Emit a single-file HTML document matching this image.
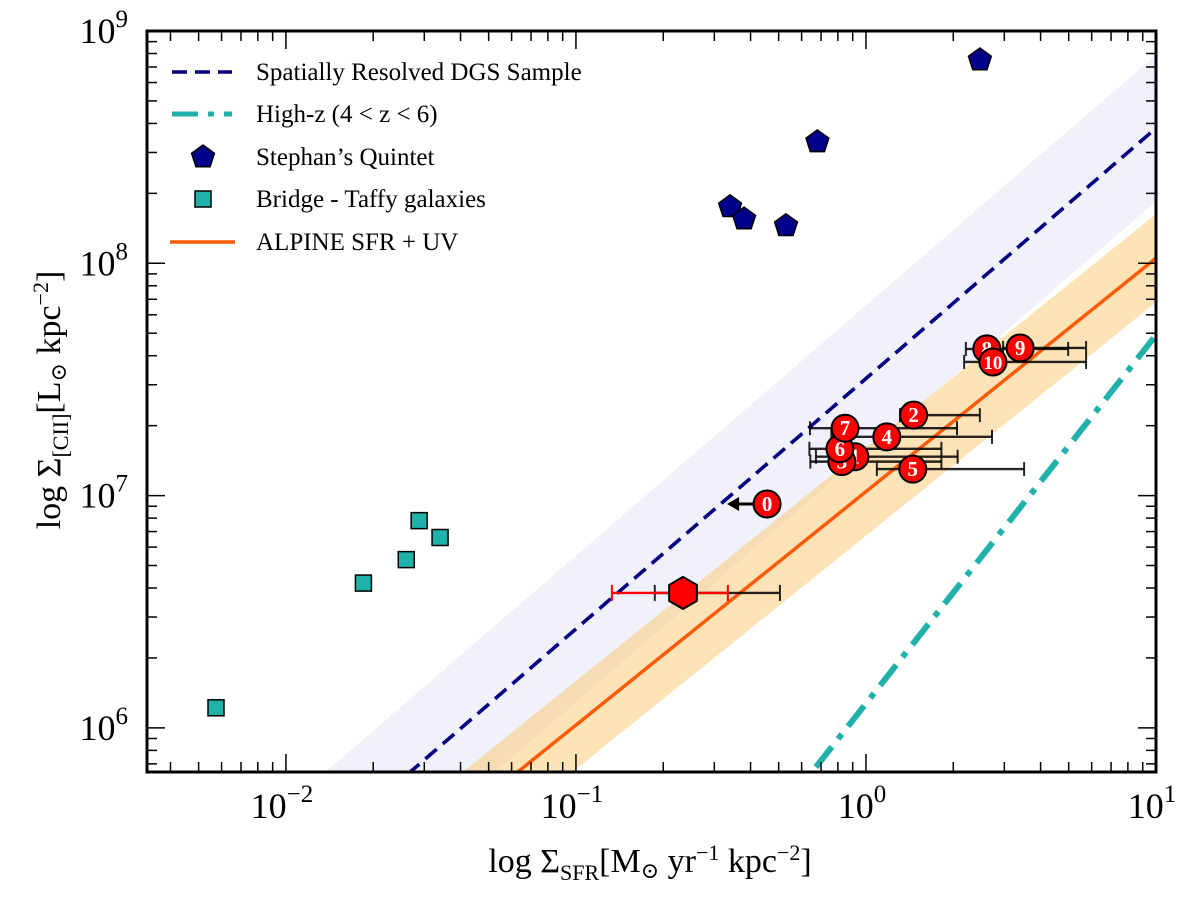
<!DOCTYPE html>
<html><head><meta charset="utf-8"><style>
html,body{margin:0;padding:0;background:#fff;width:1200px;height:897px;overflow:hidden;}
svg{display:block;}
text{font-family:"Liberation Serif","DejaVu Serif",serif;}
</style></head><body>
<svg id="chart" width="1200" height="897" viewBox="0 0 1200 897" font-family="Liberation Serif, DejaVu Serif, serif">
<defs><clipPath id="clip"><rect x="147" y="31" width="1009" height="741"/></clipPath></defs>
<g id="bands" clip-path="url(#clip)"></g>
<g id="lines" clip-path="url(#clip)"></g>
<g id="marks"></g>
<g id="axes"></g>
<g id="legend"></g>
</svg>
<script>
// ---- data ----
const xDomainLog = [-2.479, 1];
const yDomainLog = [5.81, 9];
const xTickLabels = ["-2","-1","0","1"];
const yTickLabels = ["6","7","8","9"];
// relation lines: log y = a + b * (log x - 1)   (a = value at SFR = 10)
const dgsLine = [8.582, 1.078];
const dgsBand = 0.315;
const alpineLine = [8.022, 1.005];
const alpineBand = 0.19;
const highzLine = [7.691, 1.586];
const quintetX = [2.47, 0.68, 0.34, 0.38, 0.53];
const quintetY = [7.5e8, 3.33e8, 1.75e8, 1.55e8, 1.45e8];
const taffyX = [0.0185, 0.026, 0.0288, 0.034, 0.00574];
const taffyY = [4.2e6, 5.3e6, 7.8e6, 6.6e6, 1.22e6];
const galLabels = ["1","2","3","4","5","6","7","8","9","10"];
const galX = [0.916, 1.46, 0.826, 1.18, 1.45, 0.813, 0.847, 2.61, 3.40, 2.74];
const galY = [1.47e7, 2.22e7, 1.40e7, 1.79e7, 1.30e7, 1.59e7, 1.95e7, 4.28e7, 4.32e7, 3.76e7];
const galXlo = [0.672, 1.31, 0.643, 0.760, 1.09, 0.638, 0.641, 2.21, 2.97, 2.18];
const galXhi = [2.07, 2.47, 1.82, 2.72, 3.51, 1.82, 2.06, 4.98, 5.74, 5.74];
const limitX = [0.456];
const limitY = [9.2e6];
const hexX = [0.234];
const hexY = [3.81e6];
const hexBlack = [0.187, 0.505];
const hexRed = [0.133, 0.334];

const L=147,R=1156,T=31,B=772;
const NS="http://www.w3.org/2000/svg";
function sx(v){const l=Math.log10(v);return L+(l-xDomainLog[0])/(xDomainLog[1]-xDomainLog[0])*(R-L);}
function sy(v){const l=Math.log10(v);return B-(l-yDomainLog[0])/(yDomainLog[1]-yDomainLog[0])*(B-T);}
function mk(tag,attrs,parent){const e=document.createElementNS(NS,tag);for(const k in attrs)e.setAttribute(k,attrs[k]);parent.appendChild(e);return e;}
const bands=document.getElementById('bands'),lines=document.getElementById('lines'),marks=document.getElementById('marks'),axes=document.getElementById('axes'),legend=document.getElementById('legend');
function lineY(p,lx,off){return Math.pow(10,p[0]+p[1]*(lx-1)+off);}
function bandPoly(p,w,fill,name){
  const x0=-3.5,x1=1.5;
  const pts=[[x0,w],[x1,w],[x1,-w],[x0,-w]].map(([lx,o])=>sx(Math.pow(10,lx))+','+sy(lineY(p,lx,o)));
  const e=mk('polygon',{points:pts.join(' '),fill:fill},bands);
  
  
}
bandPoly(dgsLine,dgsBand,'rgba(225,228,245,0.5)','dgs-band');
bandPoly(alpineLine,alpineBand,'rgba(252,200,110,0.5)','alpine-band');
function relLine(p,stroke,w,dash,name){
  const x0=-3.5,x1=1.5;
  const e=mk('line',{x1:sx(Math.pow(10,x0)),y1:sy(lineY(p,x0,0)),x2:sx(Math.pow(10,x1)),y2:sy(lineY(p,x1,0)),stroke:stroke,'stroke-width':w,'stroke-dasharray':dash},lines);
  
  
}
relLine(dgsLine,'#000080',3.6,'15,8','dgs-line');
relLine(alpineLine,'#ff5a0a',3.5,'none','alpine-line');
relLine(highzLine,'#20b2aa',6,'26,10,6,10','highz-line');

function ebar(x1,x2,y,col,cap,name){
  const g=mk('g',{},marks);
  
  
  mk('line',{x1:sx(x1),x2:sx(x2),y1:sy(y),y2:sy(y),stroke:col,'stroke-width':2.4},g);
  mk('line',{x1:sx(x1),x2:sx(x1),y1:sy(y)-cap,y2:sy(y)+cap,stroke:col,'stroke-width':2},g);
  mk('line',{x1:sx(x2),x2:sx(x2),y1:sy(y)-cap,y2:sy(y)+cap,stroke:col,'stroke-width':2},g);
}
for(let i=0;i<galX.length;i++) ebar(galXlo[i],galXhi[i],galY[i],'rgba(0,0,0,0.85)',7,'errorbar-'+galLabels[i]);
ebar(hexBlack[0],hexBlack[1],hexY[0],'rgba(0,0,0,0.85)',8,'hex-errorbar');
ebar(hexRed[0],hexRed[1],hexY[0],'#f00',8,'hex-errorbar-red');

{const cx=sx(hexX[0]),cy=sy(hexY[0]),r=16;let pts=[];for(let k=0;k<6;k++){const a=Math.PI/6+k*Math.PI/3;pts.push((cx+r*Math.cos(a))+','+(cy+r*Math.sin(a)));}
const e=mk('polygon',{points:pts.join(' '),fill:'#f00',stroke:'#000','stroke-width':2},marks);

}

{const cx=sx(limitX[0]),cy=sy(limitY[0]);
const a=mk('line',{x1:cx-10,x2:cx-30,y1:cy,y2:cy,stroke:'#000','stroke-width':3},marks);


const h=mk('polygon',{points:(cx-40)+','+cy+' '+(cx-28)+','+(cy-7)+' '+(cx-28)+','+(cy+7),fill:'#000'},marks);


const c=mk('circle',{cx:cx,cy:cy,r:13.5,fill:'#f00',stroke:'#000','stroke-width':2},marks);


const t=mk('text',{x:cx,y:cy+7,'text-anchor':'middle','font-size':21,'font-weight':'bold',fill:'#fff'},marks);t.textContent='0';

}

for(let i=0;i<galX.length;i++){
  const cx=sx(galX[i]),cy=sy(galY[i]);
  const c=mk('circle',{cx:cx,cy:cy,r:13.5,fill:'#f00',stroke:'#000','stroke-width':2},marks);
  
  
  const t=mk('text',{x:cx,y:cy+7,'text-anchor':'middle','font-size':galLabels[i].length>1?19:21,'font-weight':'bold',fill:'#fff'},marks);
  t.textContent=galLabels[i];
  
  
}
function pent(cx,cy,r,parent){let pts=[];for(let k=0;k<5;k++){const a=-Math.PI/2+k*2*Math.PI/5;pts.push((cx+r*Math.cos(a))+','+(cy+r*Math.sin(a)));}
return mk('polygon',{points:pts.join(' '),fill:'#00008b',stroke:'#000','stroke-width':1.5},parent);}
for(let i=0;i<quintetX.length;i++){
  const e=pent(sx(quintetX[i]),sy(quintetY[i]),12,marks);
  
  
}
for(let i=0;i<taffyX.length;i++){
  const e=mk('rect',{x:sx(taffyX[i])-8,y:sy(taffyY[i])-8,width:16,height:16,fill:'#20b2aa',stroke:'#000','stroke-width':1.5},marks);
  
  
}

{const f=mk('rect',{x:L,y:T,width:R-L,height:B-T,fill:'none',stroke:'#000','stroke-width':3},axes);

}
function tick(x1,y1,x2,y2,w){mk('line',{x1:x1,y1:y1,x2:x2,y2:y2,stroke:'#000','stroke-width':w},axes);}
for(let d=-3;d<=1;d++){for(let m=1;m<10;m++){const v=m*Math.pow(10,d);const lv=Math.log10(v);if(lv<xDomainLog[0]-1e-6||lv>xDomainLog[1]+1e-6)continue;const x=sx(v);const len=m===1?18:10;tick(x,B,x,B-len,1.5);tick(x,T,x,T+len,1.5);}}
for(let d=5;d<=9;d++){for(let m=1;m<10;m++){const v=m*Math.pow(10,d);const lv=Math.log10(v);if(lv<yDomainLog[0]-1e-6||lv>yDomainLog[1]+1e-6)continue;const y=sy(v);const len=m===1?18:10;tick(L,y,L+len,y,1.5);tick(R,y,R-len,y,1.5);}}
xTickLabels.forEach(s=>{const x=sx(Math.pow(10,+s));const t=mk('text',{x:x-4,y:818,'text-anchor':'middle','font-size':36},axes);
t.innerHTML='10<tspan dy="-16" font-size="25">'+(s.startsWith('-')?'−'+s.slice(1):s)+'</tspan>';

});
yTickLabels.forEach(s=>{const y=sy(Math.pow(10,+s));const t=mk('text',{x:128,y:y+12,'text-anchor':'end','font-size':36},axes);
t.innerHTML='10<tspan dy="-16" font-size="25">'+s+'</tspan>';

});
{const t=mk('text',{x:650,y:872,'text-anchor':'middle','font-size':34},axes);
t.innerHTML='log Σ<tspan dy="8" font-size="22">SFR</tspan><tspan dy="-8">[M</tspan><tspan dy="6" font-size="22">⊙</tspan><tspan dy="-6"> yr</tspan><tspan dy="-12" font-size="22">−1</tspan><tspan dy="12"> kpc</tspan><tspan dy="-12" font-size="22">−2</tspan><tspan dy="12">]</tspan>';

}
{const t=mk('text',{x:0,y:0,'text-anchor':'middle','font-size':34,transform:'translate(60,400) rotate(-90)'},axes);
t.innerHTML='log Σ<tspan dy="8" font-size="22">[CII]</tspan><tspan dy="-8">[L</tspan><tspan dy="6" font-size="22">⊙</tspan><tspan dy="-6"> kpc</tspan><tspan dy="-12" font-size="22">−2</tspan><tspan dy="12">]</tspan>';

}

const legTexts=["Spatially Resolved DGS Sample","High-z (4 < z < 6)","Stephan’s Quintet","Bridge - Taffy galaxies","ALPINE SFR + UV"];
const legY=[72,114,157,199,242];
legTexts.forEach((s,i)=>{
  const g=mk('g',{},legend);
  
  
  const y=legY[i];
  if(i===0) mk('line',{x1:172,x2:232,y1:y,y2:y,stroke:'#000080','stroke-width':3.6,'stroke-dasharray':'15,8'},g);
  if(i===1) mk('line',{x1:172,x2:232,y1:y,y2:y,stroke:'#20b2aa','stroke-width':5,'stroke-dasharray':'26,10,6,10'},g);
  if(i===2) pent(203,y,12,g);
  if(i===3) mk('rect',{x:195,y:y-8,width:16,height:16,fill:'#20b2aa',stroke:'#000','stroke-width':1.5},g);
  if(i===4) mk('line',{x1:170,x2:235,y1:y,y2:y,stroke:'#ff5a0a','stroke-width':3.5},g);
  const t=mk('text',{x:256,y:y+8,'font-size':25},g);t.textContent=s;
});
</script>
</body></html>
